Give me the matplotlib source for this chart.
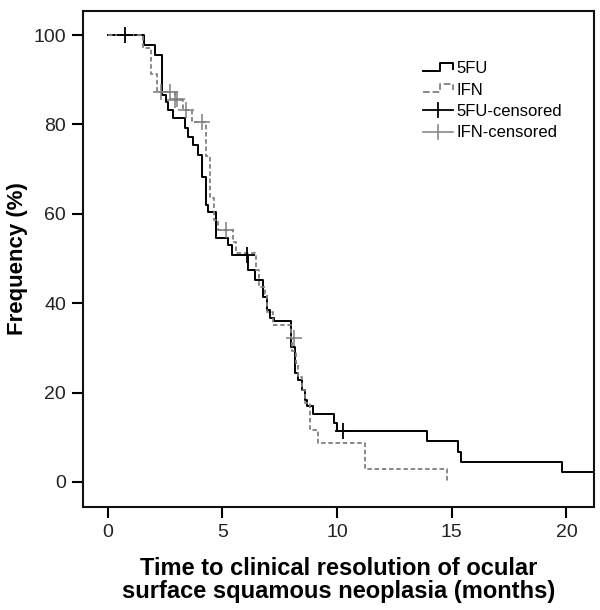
import matplotlib.pyplot as plt
from matplotlib.lines import Line2D
from matplotlib.legend_handler import HandlerBase

plt.rcParams['font.family'] = ['Liberation Sans', 'DejaVu Sans']

# Kaplan-Meier style step data (months, %)
fu_time = [0, 1.6, 2.05, 2.38, 2.55, 2.62, 2.85, 3.36, 3.5, 3.7, 3.92, 4.1, 4.27, 4.35,
           4.7, 5.23, 5.4, 6.1, 6.4, 6.75, 6.93, 7.06, 7.23, 8.0, 8.15, 8.28, 8.45,
           8.6, 8.7, 8.93, 9.85, 10.0, 13.9, 15.25, 15.4, 19.8, 21.5]
fu_surv = [100, 97.7, 95.5, 86.6, 85.1, 83.2, 81.4, 79.2, 77.3, 75.5, 73.2, 68.2, 62.0, 60.4,
           54.6, 53.0, 50.8, 47.4, 45.2, 41.4, 38.5, 36.7, 35.9, 30.3, 24.4, 22.8, 20.6,
           18.4, 16.9, 15.2, 13.2, 11.3, 9.1, 6.8, 4.5, 2.3, 2.3]
fu_cens_t = [0.74, 6.06, 10.25]
fu_cens_s = [100, 50.8, 11.3]

ifn_time = [0, 1.54, 1.9, 2.15, 2.92, 3.3, 3.65, 4.27, 4.45, 4.65, 4.8, 5.45, 5.6, 6.48,
            6.6, 6.85, 6.95, 7.2, 8.0, 8.05, 8.2, 8.3, 8.45, 8.6, 8.8, 9.17, 11.2, 14.8]
ifn_surv = [100, 97.1, 91.2, 87.3, 85.5, 83.2, 80.6, 73.0, 63.5, 58.6, 56.4, 53.7, 51.2, 47.4,
            43.6, 42.0, 38.0, 35.1, 32.2, 29.4, 26.5, 23.5, 20.6, 17.6, 11.6, 8.8, 2.9, 0.0]
ifn_cens_t = [2.34, 2.7, 2.92, 3.0, 3.43, 4.1, 5.17, 8.1]
ifn_cens_s = [87.3, 87.3, 85.5, 85.8, 83.2, 80.6, 56.4, 32.2]

fig = plt.figure(figsize=(6, 6.1), dpi=100)
ax = fig.add_axes([0.138, 0.169, 0.852, 0.813])

ax.step(fu_time, fu_surv, where='post', color='black', lw=1.4)
ax.step(ifn_time, ifn_surv, where='post', color='#808080', lw=1.3, ls=(0, (2.5, 1.5)))
ax.plot(fu_cens_t, fu_cens_s, ls='none', marker='+', ms=12, mew=1.3, color='black')
ax.plot(ifn_cens_t, ifn_cens_s, ls='none', marker='+', ms=12, mew=1.1, color='#808080')

ax.set_xlim(-1.09, 21.2)
ax.set_ylim(-5.6, 105.4)
ax.set_xticks([0, 5, 10, 15, 20])
ax.set_yticks([0, 20, 40, 60, 80, 100])
ax.tick_params(direction='out', length=8, width=1.5, labelsize=14, pad=4,
               labelcolor='#222222')
for s in ax.spines.values():
    s.set_linewidth(1.5)
    s.set_color('#111111')

ax.set_xlabel('Time to clinical resolution of ocular\nsurface squamous neoplasia (months)',
              fontsize=17, fontweight='bold', labelpad=12, linespacing=1.0)
ax.set_ylabel('Frequency (%)', fontsize=16, fontweight='bold', labelpad=4)


class StepHandler(HandlerBase):
    def create_artists(self, legend, orig, xd, yd, w, h, fontsize, trans):
        x = [0, 0.55 * w, 0.55 * w, w, w]
        y = [0.2 * h, 0.2 * h, 0.9 * h, 0.9 * h, 0.4 * h]
        ln = Line2D(x, y, color=orig.get_color(), lw=orig.get_linewidth(),
                    ls=orig.get_linestyle(), transform=trans)
        return [ln]


class CrossHandler(HandlerBase):
    def create_artists(self, legend, orig, xd, yd, w, h, fontsize, trans):
        c = orig.get_color()
        lw = orig.get_linewidth()
        h1 = Line2D([0, w], [0.5 * h, 0.5 * h], color=c, lw=lw, transform=trans)
        v1 = Line2D([0.5 * w, 0.5 * w], [-0.1 * h, 1.1 * h], color=c, lw=lw, transform=trans)
        return [h1, v1]


h_fu = Line2D([], [], color='black', lw=1.4)
h_ifn = Line2D([], [], color='#808080', lw=1.3, ls=(0, (2.5, 1.5)))
h_fuc = Line2D([], [], color='black', lw=1.3)
h_ifnc = Line2D([], [], color='#808080', lw=1.1)
ax.legend([h_fu, h_ifn, h_fuc, h_ifnc], ['5FU', 'IFN', '5FU-censored', 'IFN-censored'],
          handler_map={h_fu: StepHandler(), h_ifn: StepHandler(),
                       h_fuc: CrossHandler(), h_ifnc: CrossHandler()},
          loc='upper left', bbox_to_anchor=(0.65, 0.915), frameon=False,
          fontsize=12, handlelength=1.8, handletextpad=0.2, labelspacing=0.38,
          borderpad=0)

fig.savefig('out.png', dpi=100)
